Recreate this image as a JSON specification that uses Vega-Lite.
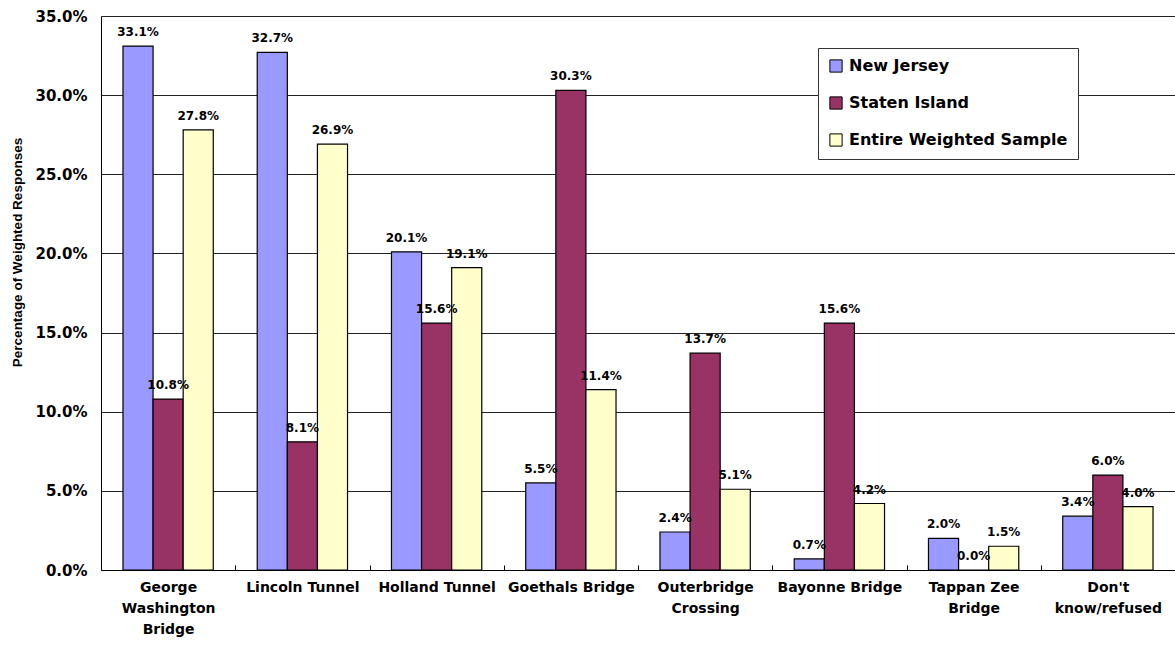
{
  "$schema": "https://vega.github.io/schema/vega-lite/v6.json",
  "autosize": {"type": "none"},
  "padding": {"left": 101, "top": 16, "right": 0, "bottom": 75},
  "width": 1074,
  "height": 554,
  "background": "white",
  "config": {
    "font": "DejaVu Sans",
    "view": {"stroke": null},
    "axis": {"labelColor": "black", "titleColor": "black"}
  },
  "data": {
    "values": [
      {"crossing": "George\nWashington\nBridge", "group": "New Jersey", "share": 0.331},
      {"crossing": "George\nWashington\nBridge", "group": "Staten Island", "share": 0.108},
      {"crossing": "George\nWashington\nBridge", "group": "Entire Weighted Sample", "share": 0.278},
      {"crossing": "Lincoln Tunnel", "group": "New Jersey", "share": 0.327},
      {"crossing": "Lincoln Tunnel", "group": "Staten Island", "share": 0.081},
      {"crossing": "Lincoln Tunnel", "group": "Entire Weighted Sample", "share": 0.269},
      {"crossing": "Holland Tunnel", "group": "New Jersey", "share": 0.201},
      {"crossing": "Holland Tunnel", "group": "Staten Island", "share": 0.156},
      {"crossing": "Holland Tunnel", "group": "Entire Weighted Sample", "share": 0.191},
      {"crossing": "Goethals Bridge", "group": "New Jersey", "share": 0.055},
      {"crossing": "Goethals Bridge", "group": "Staten Island", "share": 0.303},
      {"crossing": "Goethals Bridge", "group": "Entire Weighted Sample", "share": 0.114},
      {"crossing": "Outerbridge\nCrossing", "group": "New Jersey", "share": 0.024},
      {"crossing": "Outerbridge\nCrossing", "group": "Staten Island", "share": 0.137},
      {"crossing": "Outerbridge\nCrossing", "group": "Entire Weighted Sample", "share": 0.051},
      {"crossing": "Bayonne Bridge", "group": "New Jersey", "share": 0.007},
      {"crossing": "Bayonne Bridge", "group": "Staten Island", "share": 0.156},
      {"crossing": "Bayonne Bridge", "group": "Entire Weighted Sample", "share": 0.042},
      {"crossing": "Tappan Zee\nBridge", "group": "New Jersey", "share": 0.020},
      {"crossing": "Tappan Zee\nBridge", "group": "Staten Island", "share": 0.000},
      {"crossing": "Tappan Zee\nBridge", "group": "Entire Weighted Sample", "share": 0.015},
      {"crossing": "Don't\nknow/refused", "group": "New Jersey", "share": 0.034},
      {"crossing": "Don't\nknow/refused", "group": "Staten Island", "share": 0.060},
      {"crossing": "Don't\nknow/refused", "group": "Entire Weighted Sample", "share": 0.040}
    ]
  },
  "encoding": {
    "x": {
      "field": "crossing",
      "type": "nominal",
      "sort": null,
      "scale": {"paddingInner": 0, "paddingOuter": 0},
      "axis": {
        "title": null,
        "labelAngle": 0,
        "labelExpr": "split(datum.label, '\\n')",
        "labelFont": "DejaVu Sans",
        "labelFontSize": 14,
        "labelFontWeight": "bold",
        "labelLineHeight": 21,
        "labelPadding": 15,
        "labelBaseline": "top",
        "labelLimit": 200,
        "domain": true,
        "domainColor": "black",
        "domainWidth": 1,
        "ticks": true,
        "tickBand": "extent",
        "tickSize": -5,
        "tickColor": "black",
        "grid": false
      }
    },
    "xOffset": {
      "field": "group",
      "type": "nominal",
      "sort": ["New Jersey", "Staten Island", "Entire Weighted Sample"],
      "scale": {"paddingInner": 0, "paddingOuter": 0.73}
    },
    "y": {
      "field": "share",
      "type": "quantitative",
      "scale": {"domain": [0, 0.35], "nice": false},
      "axis": {
        "title": "Percentage of Weighted Responses",
        "titleFont": "Liberation Sans",
        "titleFontSize": 13.5,
        "titleFontWeight": "bold",
        "titlePadding": 10,
        "titleY": 236,
        "format": ".1%",
        "values": [0, 0.05, 0.1, 0.15, 0.2, 0.25, 0.3, 0.35],
        "labelFont": "DejaVu Sans",
        "labelFontSize": 15,
        "labelFontWeight": "bold",
        "labelPadding": 14,
        "ticks": false,
        "domain": true,
        "domainColor": "black",
        "grid": true,
        "gridColor": "#222222",
        "gridWidth": 1
      }
    }
  },
  "layer": [
    {
      "mark": {"type": "bar", "stroke": "black", "strokeWidth": 1.2, "opacity": 1},
      "encoding": {
        "color": {
          "field": "group",
          "type": "nominal",
          "sort": ["New Jersey", "Staten Island", "Entire Weighted Sample"],
          "scale": {
            "domain": ["New Jersey", "Staten Island", "Entire Weighted Sample"],
            "range": ["#9999FF", "#993366", "#FFFFCC"]
          },
          "legend": {
            "title": null,
            "orient": "none",
            "legendX": 717,
            "legendY": 32,
            "strokeColor": "#333333",
            "fillColor": "white",
            "padding": 10,
            "labelFont": "DejaVu Sans",
            "labelFontSize": 16,
            "labelFontWeight": "bold",
            "labelColor": "black",
            "labelLimit": 400,
            "labelOffset": 5,
            "symbolType": "square",
            "symbolSize": 150,
            "symbolStrokeColor": "black",
            "symbolStrokeWidth": 1,
            "symbolOpacity": 1,
            "rowPadding": 19
          }
        }
      }
    },
    {
      "mark": {"type": "text", "dy": -10, "baseline": "alphabetic", "align": "center", "font": "DejaVu Sans", "fontSize": 12, "fontWeight": "bold", "color": "black"},
      "encoding": {
        "text": {"field": "share", "type": "quantitative", "format": ".1%"}
      }
    }
  ]
}
